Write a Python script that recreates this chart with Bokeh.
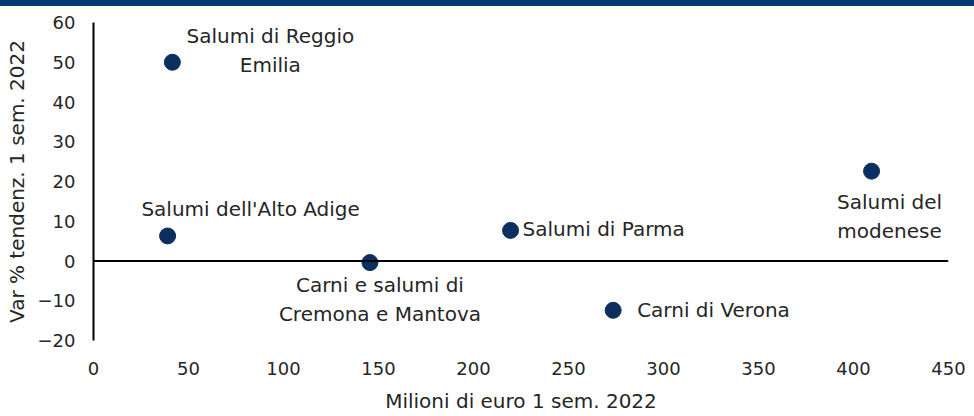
from bokeh.plotting import figure
from bokeh.layouts import column
from bokeh.models import ColumnDataSource, Span, FixedTicker, Range1d, Div
from bokeh.embed import file_html
from bokeh.resources import INLINE
from bokeh.core.properties import value

# ---- data ----
names = ["Salumi di Reggio\nEmilia", "Salumi dell'Alto Adige", "Carni e salumi di\nCremona e Mantova",
         "Salumi di Parma", "Carni di Verona", "Salumi del\nmodenese"]
x_vals = [41.5, 39, 145.5, 219.5, 273.5, 409.5]
y_vals = [50, 6.3, -0.4, 7.7, -12.4, 22.6]
x_ticks = [0, 50, 100, 150, 200, 250, 300, 350, 400, 450]
y_ticks = [-20, -10, 0, 10, 20, 30, 40, 50, 60]

# label placement (pixels, relative to the point)
lab_dx = [98, 83, 10, 12, 24, 18]
lab_dy = [-12, -27, 37, -1, 0, 45]
lab_align = ["center", "center", "center", "left", "left", "center"]

FONT = "DejaVu Sans"
TXT = "#262626"
NAVY = "#0b2f5e"
BAND = "#013a73"

W = 974
BAND_H = 6
H = 416 - BAND_H
ML, MR, MT, MB = 93, 26, 22 - BAND_H, 76

band = Div(width=W, height=BAND_H, styles={"background-color": BAND}, margin=0)

p = figure(width=W, height=H, output_backend="svg", toolbar_location=None,
           x_range=Range1d(0, 450), y_range=Range1d(-20, 60),
           min_border_left=ML, min_border_right=MR, min_border_top=MT, min_border_bottom=MB,
           margin=0)
p.outline_line_color = None
p.grid.grid_line_color = None
p.background_fill_color = "white"
p.border_fill_color = "white"

# axes
p.yaxis.ticker = FixedTicker(ticks=y_ticks)
p.xaxis.ticker = FixedTicker(ticks=x_ticks)
p.yaxis.axis_line_color = "black"
p.yaxis.axis_line_width = 2
p.yaxis.major_tick_line_color = None
p.yaxis.minor_tick_line_color = None
p.xaxis.axis_line_color = None
p.xaxis.major_tick_line_color = None
p.xaxis.minor_tick_line_color = None
for ax in (p.xaxis[0], p.yaxis[0]):
    ax.major_label_text_font = FONT
    ax.major_label_text_font_size = "18px"
    ax.major_label_text_color = TXT
    ax.axis_label_text_font = FONT
    ax.axis_label_text_font_size = "20px"
    ax.axis_label_text_color = TXT
    ax.axis_label_text_font_style = "normal"
p.yaxis.major_label_standoff = 12
p.xaxis.major_label_standoff = 15
p.xaxis.axis_label = "Milioni di euro 1 sem. 2022"
p.yaxis.axis_label = "Var % tendenz. 1 sem. 2022"
p.xaxis.axis_label_standoff = 11
p.yaxis.axis_label_standoff = 6

p.add_layout(Span(location=0, dimension="width", line_color="black", line_width=2))

src = ColumnDataSource(dict(x=x_vals, y=y_vals, name=names, dx=lab_dx, dy=lab_dy, align=lab_align))
p.scatter("x", "y", source=src, size=16, fill_color=NAVY, line_color=NAVY)
p.text("x", "y", text="name", source=src, x_offset="dx", y_offset="dy",
       text_align="align", text_baseline="middle", text_font=value(FONT),
       text_font_size="20px", text_color=TXT, text_line_height=1.2)

layout = column(band, p, spacing=0, margin=0)
open("out.html", "w").write(file_html(layout, INLINE))
